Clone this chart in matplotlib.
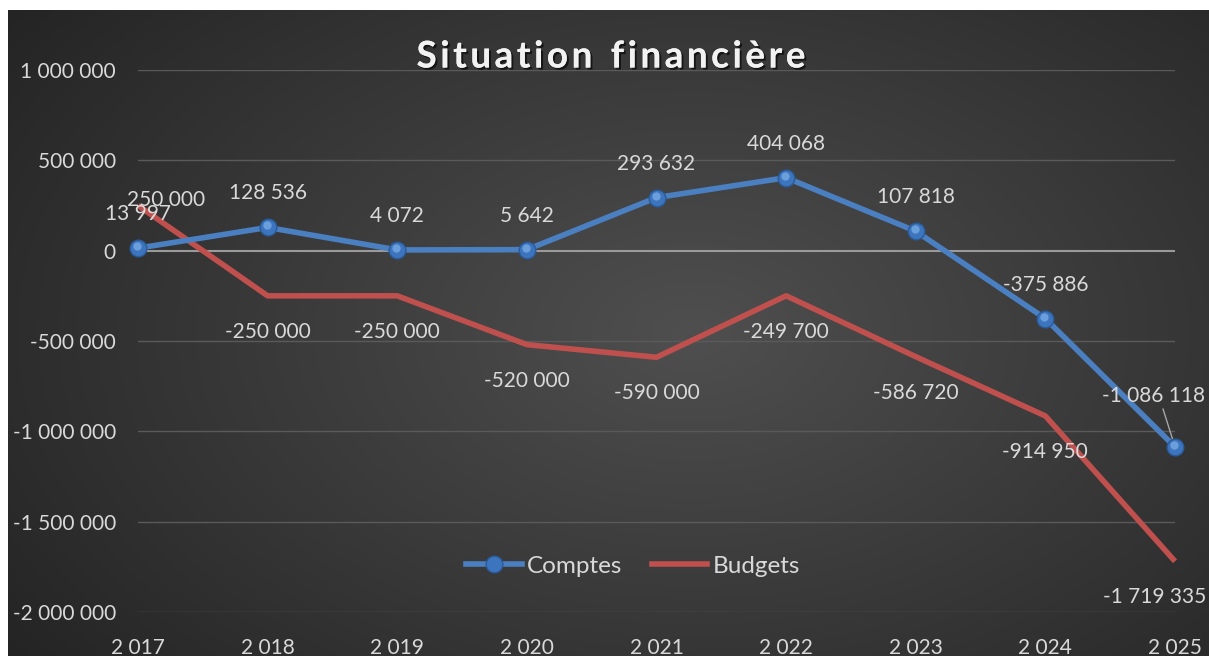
import numpy as np
import matplotlib
matplotlib.use("Agg")
import matplotlib.pyplot as plt
from matplotlib import patheffects as pe
from matplotlib.lines import Line2D

plt.rcParams['font.family'] = ['Lato', 'DejaVu Sans']

years = ["2 017", "2 018", "2 019", "2 020", "2 021", "2 022", "2 023", "2 024", "2 025"]
comptes = [13997, 128536, 4072, 5642, 293632, 404068, 107818, -375886, -1086118]
budgets = [250000, -250000, -250000, -520000, -590000, -249700, -586720, -914950, -1719335]
yticks = [1000000, 500000, 0, -500000, -1000000, -1500000, -2000000]
title = "Situation financière"

def fmt(v):
    s = f"{abs(int(v)):,}".replace(",", " ")
    return ("-" if v < 0 else "") + s

W, H = 1209, 656
fig = plt.figure(figsize=(W / 100, H / 100), dpi=100, facecolor="white")

# dark radial-gradient background
bg = fig.add_axes([8 / W, 0, 1 - 8 / W, 1 - 10 / H])
bg.set_axis_off()
yy, xx = np.mgrid[0:1:400j, 0:1:700j]
r = np.sqrt(((xx - 0.57) / 0.80) ** 2 + ((yy - 0.50) / 0.95) ** 2)
val = np.clip(0.31 - 0.19 * r, 0.14, 0.31)
img = np.dstack([val, val, val])
bg.imshow(img, aspect="auto", extent=[0, 1, 0, 1], origin="lower")
bg.set_xlim(0, 1); bg.set_ylim(0, 1)

ax = fig.add_axes([138 / W, (H - 612) / H, (1175 - 138) / W, (612 - 70) / H])
ax.set_facecolor("none")
x = np.arange(len(years))
ax.set_xlim(0, len(years) - 1)
ax.set_ylim(-2000000, 1000000)
for s in ax.spines.values():
    s.set_visible(False)
ax.set_yticks(yticks)
ax.set_yticklabels([fmt(v) for v in yticks])
ax.set_xticks(x)
ax.set_xticklabels(years)
ax.tick_params(axis="both", length=0, colors="#d9d9d9", labelsize=15)
ax.tick_params(axis="y", pad=16)
ax.tick_params(axis="x", pad=19)
for v in yticks:
    if v == 0:
        continue
    ax.axhline(v, color="#5a5a5a", lw=1.0, zorder=1)
ax.axhline(0, color="#9a9a9a", lw=1.5, zorder=1)

blue = "#4a7fc1"
red = "#c0504d"
ax.plot(x, budgets, color=red, lw=4.0, solid_capstyle="butt", zorder=3, clip_on=False)
ax.plot(x, comptes, color=blue, lw=4.0, zorder=4, clip_on=False)
ax.plot(x, comptes, ls="none", marker="o", ms=12, mfc="#3c74be", mec="#2a5a98", mew=1.0, zorder=5, clip_on=False)
ax.plot(x, comptes, ls="none", marker="o", ms=6, mfc="#6b9fdc", mec="none", zorder=6, clip_on=False,
        transform=ax.transData + matplotlib.transforms.ScaledTranslation(-1.0 / 100, 2.0 / 100, fig.dpi_scale_trans))

lab_kw = dict(textcoords="offset pixels", ha="center", va="center", color="#d9d9d9", fontsize=15, zorder=7)
for i, v in enumerate(comptes):
    if i == len(comptes) - 1:
        ax.annotate(fmt(v), (x[i], v), xytext=(-22, 51), **lab_kw)
        ax.annotate("", (x[i], v), xytext=(-12, 38), textcoords="offset pixels",
                    arrowprops=dict(arrowstyle="-", color="#a6a6a6", lw=1.0, shrinkA=0, shrinkB=4))
    else:
        ax.annotate(fmt(v), (x[i], v), xytext=(0, 34), **lab_kw)
for i, v in enumerate(budgets):
    if i == 0:
        off = (28, 5)
    elif i == len(budgets) - 1:
        off = (-20, -36)
    else:
        off = (0, -36)
    ax.annotate(fmt(v), (x[i], v), xytext=off, **lab_kw)

# legend
handles = [Line2D([], [], color=blue, lw=4, marker="o", ms=12, mfc="#3c74be", mec="#2a5a98"),
           Line2D([], [], color=red, lw=4)]
leg = ax.legend(handles, ["Comptes", "Budgets"], loc="center", bbox_to_anchor=((633 - 138) / (1175 - 138), (612 - 566) / 542),
                ncol=2, frameon=False, fontsize=17.5, labelcolor="#d9d9d9", handlelength=2.3,
                handletextpad=0.2, columnspacing=1.2)

# letter-spaced bold title
fig.canvas.draw()
rend = fig.canvas.get_renderer()
fs = 26.5
spacing = 3.6
widths = []
for ch in title:
    t = fig.text(0, 0, ch if ch != " " else "n", fontsize=fs, fontweight="bold")
    bb = t.get_window_extent(rend)
    widths.append(bb.width * (0.55 if ch == " " else 1.0))
    t.remove()
total = sum(widths) + spacing * (len(title) - 1)
cx, cy = 611, H - 57
xpos = cx - total / 2
for ch, w in zip(title, widths):
    if ch != " ":
        fig.text(xpos / W, cy / H, ch, fontsize=fs, fontweight="bold", color="#f2f2f2",
                 ha="left", va="center",
                 path_effects=[pe.withSimplePatchShadow(offset=(1.5, -1.5), shadow_rgbFace="black", alpha=0.6), pe.Normal()])
    xpos += w + spacing

fig.savefig("out.png", dpi=100, facecolor="white")
